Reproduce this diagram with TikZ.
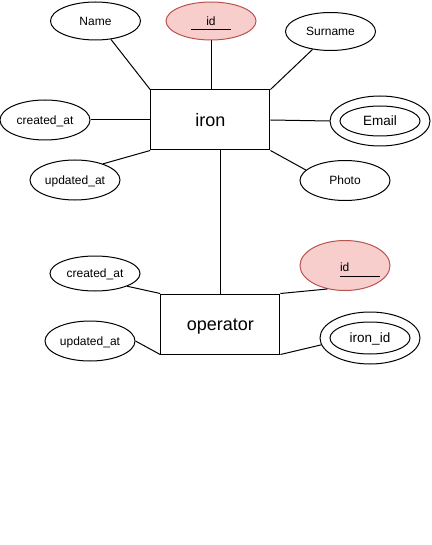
\documentclass[tikz,border=0pt]{standalone}
\usepackage{fontspec}
\setmainfont{Liberation Sans}
\usetikzlibrary{shapes.geometric}
\definecolor{pkfill}{HTML}{F8CECC}
\definecolor{pkline}{HTML}{B85450}
\newcommand{\pkline}{\llap{\rule[-5.1pt]{40pt}{0.9pt}}}
\begin{document}
\begin{tikzpicture}[x=1pt,y=-1pt,
  attr/.style={ellipse, draw=black, line width=1pt, fill=white, inner sep=0pt,
    minimum width=90pt, minimum height=38pt,
    font=\fontsize{12}{14}\selectfont, text height=8.6pt, text depth=0pt},
  pk/.style={attr, draw=pkline, fill=pkfill},
  multi/.style={attr, minimum width=100pt, minimum height=50pt},
  multiin/.style={attr, minimum width=80pt, minimum height=30pt,
    font=\fontsize{13.5}{16}\selectfont, text height=9.7pt},
  entity/.style={rectangle, draw=black, line width=1pt, fill=white, inner sep=0pt,
    minimum width=119.3pt, minimum height=60pt,
    font=\fontsize{18}{21}\selectfont, text height=12.9pt, text depth=0pt},
  conn/.style={draw=black, line width=1pt}
]
\useasboundingbox (0,0) rectangle (431,545);

% entities
\node[entity] (iron) at (210.3,120) {iron};
\node[entity] (op) at (220.3,324) {operator};

% iron attributes
\node[attr] (name) at (95.5,21) {Name};
\node[pk] (idt) at (211,21) {\makebox[0pt]{\makebox[40pt]{id}\pkline}};
\node[attr] (surname) at (330.5,31.5) {Surname};
\node[attr, minimum height=40pt] (cr1) at (45,120) {created\_at};
\node[multi] (email) at (380,121) {};
\node[multiin] (emailin) at (380,121) {Email};
\node[attr, minimum height=40pt] (upd1) at (75,180) {updated\_at};
\node[attr, minimum height=40pt] (photo) at (345,180.5) {Photo};

% operator attributes
\node[attr, minimum height=35pt] (cr2) at (95,273.5) {created\_at};
\node[pk, minimum height=50pt] (idb) at (345,265.5) {\raisebox{-1.8pt}{\makebox[0pt]{\hspace*{30pt}\makebox[40pt][l]{id}\pkline}}};
\node[attr, minimum height=40pt] (upd2) at (90,341) {updated\_at};
\node[multi, minimum height=52pt] (ironid) at (370,338) {};
\node[multiin, minimum height=32pt] (ironidin) at (370,338) {iron\_id};

% connectors
\draw[conn] (name.310) -- (iron.north west);
\draw[conn] (idt.south) -- (iron.north -| idt.south);
\draw[conn] (surname.225) -- (iron.north east);
\draw[conn] (cr1.east) -- (iron.west);
\draw[conn] (iron.east) -- (email.west);
\draw[conn] (upd1.30) -- (iron.south west);
\draw[conn] (iron.south east) -- (photo.165);
\draw[conn] (op.north |- iron.south) -- (op.north);

\draw[conn] (cr2.south east) -- (op.north west);
\draw[conn] (op.north east) -- (idb.233);
\draw[conn] (upd2.east) -- (op.south west);
\draw[conn] (op.south east) -- (ironid.188);
\end{tikzpicture}
\end{document}
